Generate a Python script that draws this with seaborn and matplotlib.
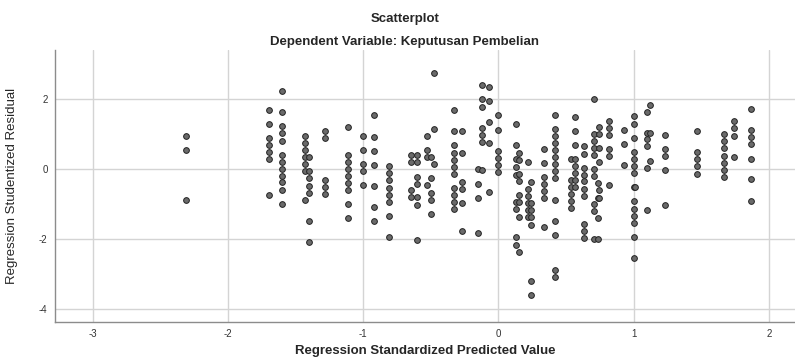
import pandas as pd
import matplotlib
matplotlib.use("Agg")
import matplotlib.pyplot as plt
import seaborn as sns

# predicted value of each column of points (x) and the residuals in it (y)
pred_cols = [-2.31, -1.70, -1.60, -1.43, -1.40, -1.28, -1.11, -1.00, -0.92, -0.81,
             -0.645, -0.60, -0.53, -0.50, -0.48, -0.33, -0.27, -0.15, -0.12, -0.07,
             0.00, 0.13, 0.15, 0.22, 0.24, 0.34, 0.42, 0.54, 0.565, 0.63,
             0.71, 0.735, 0.745, 0.82, 0.93, 1.00, 1.01, 1.10, 1.12, 1.23,
             1.47, 1.67, 1.74, 1.87]

resid_cols = [
    [0.93, 0.53, -0.89],
    [1.68, 1.28, 0.88, 0.68, 0.47, 0.27, -0.75],
    [2.24, 1.63, 1.23, 1.02, 0.81, 0.41, 0.21, 0.01, -0.20, -0.39, -0.60, -1.00],
    [0.94, 0.74, 0.54, 0.34, 0.14, -0.07, -0.88],
    [0.34, -0.07, -0.27, -0.48, -0.68, -1.49, -2.09],
    [1.08, 0.88, -0.31, -0.53, -0.73],
    [1.21, 0.40, 0.20, 0.00, -0.20, -0.40, -0.61, -1.01, -1.41],
    [0.95, 0.55, 0.15, -0.05, -0.45],
    [1.53, 0.92, 0.52, 0.12, -0.49, -1.09, -1.49],
    [0.07, -0.13, -0.33, -0.54, -0.74, -0.94, -1.34, -1.94],
    [0.40, 0.19, -0.61, -0.81],
    [0.40, 0.19, -0.22, -0.43, -0.81, -1.03, -2.04],
    [0.94, 0.54, 0.34, -0.46],
    [0.33, -0.27, -0.69, -0.89, -1.29],
    [2.74, 1.14, 0.13],
    [1.67, 1.07, 0.67, 0.46, 0.26, 0.06, -0.14, -0.55, -0.75, -0.95, -1.15],
    [1.07, 0.44, -0.38, -0.58, -0.98, -1.78],
    [-0.01, -0.43, -0.83, -1.83],
    [2.39, 1.99, 1.78, 1.18, 0.97, 0.77, -0.04],
    [2.35, 1.95, 1.35, 0.74, -0.66],
    [1.53, 1.12, 0.51, 0.31, 0.11, -0.10],
    [1.27, 0.67, 0.27, 0.06, -0.17, -0.96, -1.16, -1.95, -2.17],
    [0.44, 0.25, -0.14, -0.36, -0.76, -0.96, -1.38, -2.37],
    [0.21, -0.59, -0.79, -0.99, -1.19, -1.39],
    [-0.38, -0.99, -1.19, -1.39, -1.60, -3.22, -3.62],
    [0.56, 0.16, -0.24, -0.44, -0.64, -0.84, -1.65],
    [1.54, 1.14, 0.94, 0.74, 0.54, 0.34, 0.14, -0.06, -0.27, -0.88, -1.48, -1.89, -2.90, -3.10],
    [0.28, -0.32, -0.53, -0.72, -0.93, -1.13],
    [1.48, 1.08, 0.68, 0.28, 0.07, -0.13, -0.32, -0.53],
    [0.64, 0.43, 0.03, -0.17, -0.36, -0.57, -0.77, -1.57, -1.77, -1.97],
    [2.01, 1.00, 0.80, 0.60, 0.40, 0.00, -0.20, -1.01, -1.20, -2.01],
    [-0.41, -0.82, -1.41, -2.01],
    [1.21, 1.00, 0.60, 0.19, -0.60, -0.82],
    [1.36, 1.16, 0.96, 0.56, 0.36, -0.46],
    [1.11, 0.71, 0.10],
    [1.50, 1.29, 0.89, 0.48, 0.28, 0.08, -0.12, -0.53, -0.93, -1.14, -1.34, -1.54, -1.94, -2.54],
    [-0.53],
    [1.64, 1.04, 0.84, 0.64, 0.03, -1.17],
    [1.84, 1.04, 0.23],
    [0.98, 0.58, 0.38, -0.02, -1.04],
    [1.08, 0.48, 0.28, 0.07, -0.14],
    [0.99, 0.79, 0.59, 0.38, 0.18, -0.02, -0.23],
    [1.36, 1.16, 0.95, 0.35],
    [1.71, 1.10, 0.91, 0.70, 0.29, -0.30, -0.92],
]

x_ticks = [-3, -2, -1, 0, 1, 2]
y_ticks = [-4, -2, 0, 2]

rows = []
for xv, ys in zip(pred_cols, resid_cols):
    for yv in ys:
        rows.append({"pred": xv, "resid": yv})
df = pd.DataFrame(rows)

sns.set_style("white")
plt.rcParams['font.family'] = ['Liberation Sans', 'DejaVu Sans']
plt.rcParams['axes.unicode_minus'] = False

fig = plt.figure(figsize=(7.95, 3.6), dpi=100)
ax = fig.add_axes([0.0686, 0.1056, 0.9314, 0.7555])

sns.scatterplot(data=df, x="pred", y="resid", ax=ax, s=17,
                color="#6a6a6a", edgecolor="#222222", linewidth=0.7, zorder=3)

ax.set_xlim(-3.283, 2.193)
ax.set_ylim(-4.38, 3.4)
ax.set_xticks(x_ticks)
ax.set_yticks(y_ticks)
ax.grid(True, color="#d4d4d4", linewidth=1)
ax.set_axisbelow(True)
ax.tick_params(length=0, labelsize=7, colors="#333333", pad=5)

for side in ["top", "right"]:
    ax.spines[side].set_visible(False)
for side in ["left", "bottom"]:
    ax.spines[side].set_color("#8c8c8c")
    ax.spines[side].set_linewidth(1)

ax.set_xlabel("Regression Standardized Predicted Value", fontsize=9.5, fontweight="bold")
ax.set_ylabel("Regression Studentized Residual", fontsize=9.5)
ax.xaxis.set_label_coords(0.5, -0.085)
ax.yaxis.set_label_coords(-0.049, 0.5)

fig.text(405 / 795, 1 - 19 / 360, "Scatterplot", ha="center", va="center",
         fontsize=9.5, fontweight="bold")
fig.text(405 / 795, 1 - 42 / 360, "Dependent Variable: Keputusan Pembelian",
         ha="center", va="center", fontsize=9.5, fontweight="bold")

fig.savefig("out.png", dpi=100)
